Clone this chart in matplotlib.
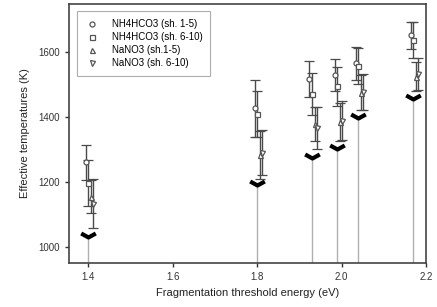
import matplotlib
matplotlib.use("Agg")
import matplotlib.pyplot as plt
from matplotlib.path import Path
from matplotlib.lines import Line2D
import numpy as np

plt.rcParams['font.family'] = ['Liberation Sans', 'DejaVu Sans']

energies = [1.40, 1.80, 1.93, 1.99, 2.04, 2.17]
thresholds = [1030, 1190, 1273, 1301, 1396, 1454]

nh4_1_5 = [1260, 1427, 1516, 1529, 1565, 1652]
nh4_1_5_err = [55, 88, 55, 50, 50, 42]
nh4_6_10 = [1197, 1409, 1470, 1495, 1557, 1637]
nh4_6_10_err = [70, 70, 65, 60, 55, 55]
nano3_1_5 = [1155, 1283, 1378, 1385, 1475, 1524]
nano3_1_5_err = [50, 75, 52, 58, 55, 45]
nano3_6_10 = [1133, 1290, 1365, 1389, 1478, 1532]
nano3_6_10_err = [75, 70, 65, 60, 55, 50]

labels = ["NH4HCO3 (sh. 1-5)", "NH4HCO3 (sh. 6-10)", "NaNO3 (sh.1-5)", "NaNO3 (sh. 6-10)"]

fig = plt.figure(figsize=(4.37, 3.07), dpi=100)
ax = fig.add_axes([0.158, 0.143, 0.817, 0.844])
ax.set_xlim(1.355, 2.2)
ax.set_ylim(950, 1748)

ymin = 950
ax.vlines(energies, ymin, thresholds, colors='#b0b0b0', linewidth=1.0, zorder=1)

chev = Path([(-1, 0.55), (0, 0), (1, 0.55)], [Path.MOVETO, Path.LINETO, Path.LINETO])
ax.plot(energies, thresholds, linestyle='none', marker=chev, markersize=10.5,
        markeredgewidth=3.0, color='black', fillstyle='none', zorder=3)

series = [(nh4_1_5, nh4_1_5_err, 'o', -0.006),
          (nh4_6_10, nh4_6_10_err, 's', -0.001),
          (nano3_1_5, nano3_1_5_err, '^', 0.006),
          (nano3_6_10, nano3_6_10_err, 'v', 0.011)]
for (vals, errs, mk, off), lab in zip(series, labels):
    xs = np.array(energies) + off
    ax.errorbar(xs, vals, yerr=errs, fmt=mk, markersize=3.6, mfc='white', mec='#555555',
                mew=0.9, ecolor='#4a4a4a', elinewidth=1.0, capsize=3.5, capthick=1.0,
                label=lab, zorder=4)

ax.set_xticks([1.4, 1.6, 1.8, 2.0, 2.2])
ax.set_xticklabels(['1.4', '1.6', '1.8', '2.0', '2.2'])
ax.set_yticks([1000, 1200, 1400, 1600])
ax.tick_params(direction='out', length=3, width=1, labelsize=7, colors='#333333')
for s in ax.spines.values():
    s.set_color('#444444')
    s.set_linewidth(1.2)

ax.set_xlabel('Fragmentation threshold energy (eV)', fontsize=8, color='#222222', labelpad=4)
ax.set_ylabel('Effective temperatures (K)', fontsize=8, color='#222222', labelpad=6)

mk_handles = [Line2D([], [], linestyle='none', marker=m, markersize=3.6, mfc='white',
                     mec='#555555', mew=0.9) for m in ['o', 's', '^', 'v']]
leg = ax.legend(mk_handles, labels, loc='upper left', fontsize=7, frameon=True,
                fancybox=False, edgecolor='#999999', borderpad=0.8, labelspacing=0.3,
                handlelength=1.4, handletextpad=1.3, borderaxespad=0.5,
                bbox_to_anchor=(0.01, 0.99))
leg.get_frame().set_linewidth(0.8)

fig.savefig('out.png', dpi=100)
